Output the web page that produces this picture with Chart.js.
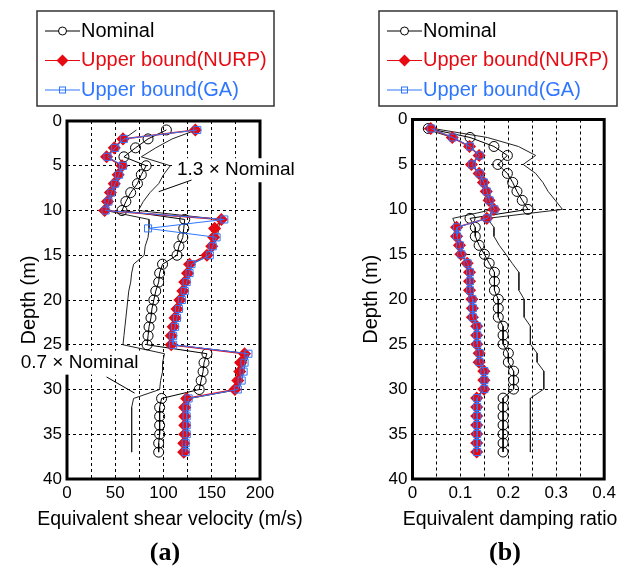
<!DOCTYPE html>
<html>
<head>
<meta charset="utf-8">
<script src="https://cdn.jsdelivr.net/npm/chart.js@4.4.1/dist/chart.umd.min.js"></script>
<style>
  html, body { margin: 0; padding: 0; background: #fff; }
  #wrap { position: relative; width: 620px; height: 573px; }
  canvas { position: absolute; top: 0; }
  #velChart { left: 0; }
  #dampChart { left: 310px; }
</style>
</head>
<body>
<div id="wrap">
  <canvas id="velChart" width="310" height="573"></canvas>
  <canvas id="dampChart" width="310" height="573"></canvas>
</div>
<script>
// depth of each layer (m)
const depths = [1,2,3,4,5,6,7,8,9,10,11,12,13,14,15,16,17,18,19,20,21,22,23,24,25,26,27,28,29,30,31,32,33,34,35,36,37];

// (a) equivalent shear velocity (m/s)
const velNominal = [103,84,71,59,82,77,73,66,61,57,122,121,120,116,114,99,96,95,92,90,88,87,85,84,83,145,142,141,139,137,98,96,96,96,96,95,95];
const velNURP = [133,58,49,41,57,53,49,45,42,39,160,153,152,150,145,127,125,122,120,117,114,112,110,108,108,184,180,179,177,174,124,122,122,122,122,121,121];
const velGA = [135,59,50,42,58,54,50,46,43,40,163,84,155,151,148,129,127,124,122,119,116,114,112,110,110,188,184,183,181,177,126,124,124,124,124,123,123];
const velHigh = [134,109,92,77,107,100,95,86,79,74,159,157,156,151,148,129,125,124,120,117,114,113,111,109,108,189,185,183,181,178,127,125,125,125,125,124,124];
const velLow = [72,59,50,41,57,54,51,46,43,40,85,85,84,81,80,69,67,66,64,63,62,61,60,59,58,101,99,99,97,96,69,67,67,67,67,67,67];

// (b) equivalent damping ratio
const dampNominal = [0.033,0.12,0.17,0.198,0.178,0.198,0.209,0.218,0.229,0.241,0.12,0.131,0.131,0.139,0.15,0.16,0.171,0.171,0.171,0.179,0.179,0.179,0.189,0.189,0.189,0.2,0.2,0.211,0.211,0.211,0.189,0.189,0.189,0.189,0.189,0.189,0.189];
const dampNURP = [0.038,0.083,0.119,0.139,0.123,0.139,0.148,0.154,0.16,0.17,0.155,0.092,0.092,0.098,0.101,0.114,0.119,0.119,0.119,0.124,0.125,0.125,0.134,0.134,0.134,0.139,0.139,0.149,0.149,0.149,0.134,0.134,0.134,0.134,0.134,0.134,0.134];
const dampGA = [0.039,0.084,0.12,0.14,0.124,0.14,0.149,0.155,0.161,0.171,0.156,0.093,0.093,0.099,0.102,0.115,0.12,0.12,0.12,0.125,0.126,0.126,0.135,0.135,0.135,0.14,0.14,0.15,0.15,0.15,0.135,0.135,0.135,0.135,0.135,0.135,0.135];
const dampHigh = [0.043,0.156,0.221,0.257,0.231,0.257,0.272,0.283,0.298,0.313,0.156,0.17,0.17,0.181,0.195,0.208,0.222,0.222,0.222,0.233,0.233,0.233,0.246,0.246,0.246,0.26,0.26,0.274,0.274,0.274,0.246,0.246,0.246,0.246,0.246,0.246,0.246];
const dampLow = [0.023,0.084,0.119,0.139,0.125,0.139,0.146,0.153,0.16,0.169,0.084,0.092,0.092,0.097,0.105,0.112,0.12,0.12,0.12,0.125,0.125,0.125,0.132,0.132,0.132,0.14,0.14,0.148,0.148,0.148,0.132,0.132,0.132,0.132,0.132,0.132,0.132];

const legendLabels = ["Nominal", "Upper bound(NURP)", "Upper bound(GA)"];
const RED = "#e60a12";
const BLUE = "#2f76ff";
const FONT = '"Liberation Sans", Arial, sans-serif';

function pts(values) {
  return depths.map((d, i) => ({ x: values[i], y: d }));
}

function makeDatasets(nominal, nurp, ga, high, low) {
  return [
    { label: legendLabels[2], data: pts(ga), showLine: true, order: 0,
      borderColor: BLUE, borderWidth: 1, pointStyle: "rect", pointRadius: 5,
      pointBorderColor: BLUE, pointBorderWidth: 1, pointBackgroundColor: "rgba(0,0,0,0)" },
    { label: legendLabels[1], data: pts(nurp), showLine: true, order: 1,
      borderColor: RED, borderWidth: 1.5, pointStyle: "rectRot", pointRadius: 5.5,
      pointBorderColor: RED, pointBackgroundColor: RED },
    { label: legendLabels[0], data: pts(nominal), showLine: true, order: 2,
      borderColor: "#000", borderWidth: 1, pointStyle: "circle", pointRadius: 5,
      pointBorderColor: "#000", pointBorderWidth: 1, pointBackgroundColor: "rgba(0,0,0,0)" },
    { label: "1.3×Nominal", data: pts(high), showLine: true, order: 3,
      borderColor: "#222", borderWidth: 1, pointRadius: 0 },
    { label: "0.7×Nominal", data: pts(low), showLine: true, order: 3,
      borderColor: "#222", borderWidth: 1, pointRadius: 0 }
  ];
}

// frame, axis title, legend box, notes and panel letter
const panelDeco = {
  id: "panelDeco",
  afterDraw(chart, args, opts) {
    const ctx = chart.ctx;
    const a = chart.chartArea;
    const xs = chart.scales.x, ys = chart.scales.y;
    ctx.save();
    ctx.strokeStyle = "#000";
    ctx.lineWidth = 3;
    ctx.strokeRect(a.left, a.top, a.right - a.left, a.bottom - a.top);

    // x axis title (drawn here so it is not squeezed to the plot width)
    ctx.fillStyle = "#000";
    ctx.font = "19.5px " + FONT;
    ctx.textAlign = "center";
    ctx.textBaseline = "middle";
    ctx.fillText(opts.xTitle, opts.xTitleX, 520);

    // notes with white background
    ctx.font = "19px " + FONT;
    ctx.textAlign = "left";
    (opts.notes || []).forEach(n => {
      const x = xs.getPixelForValue(n.x), y = ys.getPixelForValue(n.y);
      const w = ctx.measureText(n.text).width;
      ctx.fillStyle = "#fff";
      ctx.fillRect(x - 3, y - 12, w + 6, 24);
      ctx.fillStyle = "#000";
      ctx.fillText(n.text, x, y);
      ctx.lineWidth = 1;
      ctx.strokeStyle = "#000";
      ctx.beginPath();
      ctx.moveTo(xs.getPixelForValue(n.from[0]), ys.getPixelForValue(n.from[1]));
      ctx.lineTo(xs.getPixelForValue(n.to[0]), ys.getPixelForValue(n.to[1]));
      ctx.stroke();
    });

    // legend
    const lg = opts.legend;
    ctx.lineWidth = 1.5;
    ctx.strokeStyle = "#333";
    ctx.strokeRect(lg.x, lg.y, lg.w, lg.h);
    const colors = ["#000", RED, BLUE];
    ctx.font = "20px " + FONT;
    legendLabels.forEach((txt, i) => {
      const y = lg.y + 20 + i * 29.5;
      const x1 = lg.x + 8, x2 = lg.x + 43, xm = (x1 + x2) / 2;
      ctx.strokeStyle = colors[i];
      ctx.fillStyle = colors[i];
      ctx.lineWidth = 1;
      ctx.beginPath();
      ctx.moveTo(x1, y);
      ctx.lineTo(x2, y);
      ctx.stroke();
      if (i === 0) {
        ctx.fillStyle = "#fff";
        ctx.beginPath();
        ctx.arc(xm, y, 4, 0, Math.PI * 2);
        ctx.fill();
        ctx.stroke();
      } else if (i === 1) {
        ctx.beginPath();
        ctx.moveTo(xm - 6, y);
        ctx.lineTo(xm, y - 6);
        ctx.lineTo(xm + 6, y);
        ctx.lineTo(xm, y + 6);
        ctx.closePath();
        ctx.fill();
      } else {
        ctx.strokeRect(xm - 3, y - 3, 6, 6);
      }
      ctx.fillStyle = colors[i];
      ctx.fillText(txt, x2 + 1, y);
    });

    // panel letter
    ctx.fillStyle = "#000";
    ctx.font = 'bold 26px "Liberation Serif", "Times New Roman", serif';
    ctx.textAlign = "center";
    ctx.fillText(opts.letter, opts.letterX, opts.letterY);
    ctx.restore();
  }
};

function makeChart(id, cfg) {
  const ctx = document.getElementById(id).getContext("2d");
  return new Chart(ctx, {
    type: "scatter",
    data: { datasets: cfg.datasets },
    options: {
      responsive: false,
      animation: false,
      devicePixelRatio: 1,
      events: [],
      layout: { padding: cfg.padding },
      plugins: {
        legend: { display: false },
        tooltip: { enabled: false },
        panelDeco: cfg.deco
      },
      scales: {
        x: {
          type: "linear",
          min: cfg.xMin, max: cfg.xMax,
          ticks: {
            stepSize: cfg.xStep, autoSkip: false, maxRotation: 0,
            color: "#000", font: { size: 17, family: FONT }, padding: 4,
            callback: cfg.xLabel
          },
          grid: { color: "#000", lineWidth: 1, drawTicks: false },
          border: { display: false, dash: [3, 3] },
          afterFit(s) { s.height = 55; }
        },
        y: {
          type: "linear", reverse: true,
          min: 0, max: 40,
          ticks: { stepSize: 5, color: "#000", font: { size: 17, family: FONT }, padding: 5 },
          grid: { color: "#000", lineWidth: 1, drawTicks: false },
          border: { display: false, dash: [3, 3] },
          title: { display: true, text: "Depth (m)", color: "#000",
                   font: { size: 20, family: FONT }, padding: { top: cfg.yTitlePad, bottom: 0 } },
          afterFit(s) { s.width = cfg.yWidth; }
        }
      }
    },
    plugins: [panelDeco]
  });
}

makeChart("velChart", {
  datasets: makeDatasets(velNominal, velNURP, velGA, velHigh, velLow),
  padding: { left: 0, right: 50, top: 121, bottom: 39 },
  yWidth: 67, yTitlePad: 17,
  xMin: 0, xMax: 200, xStep: 25,
  xLabel: v => (v % 50 === 0 ? v : ""),
  deco: {
    xTitle: "Equivalent shear velocity (m/s)", xTitleX: 170,
    legend: { x: 37, y: 11, w: 237, h: 95 },
    notes: [
      { text: "1.3 × Nominal", x: 114, y: 5.5, from: [129, 6.6], to: [95, 7.9] },
      { text: "0.7 × Nominal", x: -48, y: 27, from: [41, 28.6], to: [70, 30.4] }
    ],
    letter: "(a)", letterX: 165, letterY: 553
  }
});

makeChart("dampChart", {
  datasets: makeDatasets(dampNominal, dampNURP, dampGA, dampHigh, dampLow),
  padding: { left: 30, right: 13.5, top: 119.5, bottom: 39 },
  yWidth: 72.5, yTitlePad: 19,
  xMin: 0, xMax: 0.4, xStep: 0.05,
  xLabel: v => (Math.abs(v * 10 - Math.round(v * 10)) < 1e-6 ? +v.toFixed(1) : ""),
  deco: {
    xTitle: "Equivalent damping ratio", xTitleX: 200,
    legend: { x: 69, y: 11, w: 238, h: 95 },
    notes: [],
    letter: "(b)", letterX: 195, letterY: 553
  }
});
</script>
</body>
</html>
